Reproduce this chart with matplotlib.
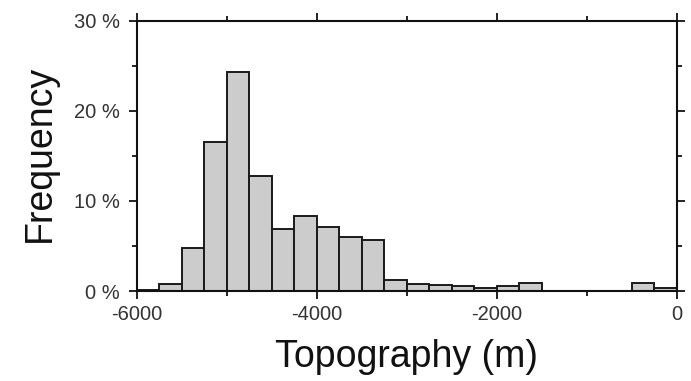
import matplotlib
matplotlib.use("Agg")
import matplotlib.pyplot as plt
from matplotlib.ticker import MultipleLocator, FuncFormatter
import numpy as np

# Data: histogram of topography (bin left edges in m, width 250 m), frequency in %
bin_left = [-6000, -5750, -5500, -5250, -5000, -4750, -4500, -4250,
            -4000, -3750, -3500, -3250, -3000, -2750, -2500, -2250,
            -2000, -1750, -1500, -1250, -1000, -750, -500, -250]
freq = [0.1, 0.75, 4.8, 16.5, 24.3, 12.8, 6.9, 8.3,
        7.15, 6.0, 5.65, 1.2, 0.74, 0.63, 0.55, 0.33,
        0.52, 0.9, 0.05, 0.05, 0.05, 0.05, 0.9, 0.3]
bin_width = 250
x_major = [-6000, -4000, -2000, 0]
y_major = [0, 10, 20, 30]

plt.rcParams['font.family'] = ['Liberation Sans', 'DejaVu Sans']

fig = plt.figure(figsize=(6.91, 3.81), dpi=100)
ax = fig.add_axes([0.1978, 0.2362, 0.7815, 0.7095])

ax.bar(bin_left, freq, width=bin_width, align='edge', color='#cccccc',
       edgecolor='#1a1a1a', linewidth=1.4, zorder=2)

ax.set_xlim(-6000, 0)
ax.set_ylim(0, 30)
ax.set_xticks(x_major)
ax.xaxis.set_minor_locator(MultipleLocator(1000))
ax.set_yticks(y_major)
ax.yaxis.set_minor_locator(MultipleLocator(5))
ax.yaxis.set_major_formatter(FuncFormatter(lambda v, p: f"{int(v)} %"))
ax.xaxis.set_major_formatter(FuncFormatter(lambda v, p: f"{int(v)}"))

for s in ax.spines.values():
    s.set_linewidth(1.5)
    s.set_color('#111111')

ax.tick_params(which='both', direction='out', top=True, right=True,
               labeltop=False, labelright=False, color='#111111', width=1.3)
ax.tick_params(which='major', length=6)
ax.tick_params(which='minor', length=3.5)
ax.tick_params(axis='x', which='major', labelsize=14.5, pad=4, labelcolor='#333333')
ax.tick_params(axis='y', which='major', labelsize=14.5, pad=6, labelcolor='#333333')

ax.set_xlabel("Topography (m)", fontsize=27, color='#111111')
ax.set_ylabel("Frequency", fontsize=27, color='#111111')
ax.xaxis.set_label_coords(0.499, -0.176)
ax.yaxis.set_label_coords(-0.1457, 0.51)

fig.savefig("out.png", dpi=100)
